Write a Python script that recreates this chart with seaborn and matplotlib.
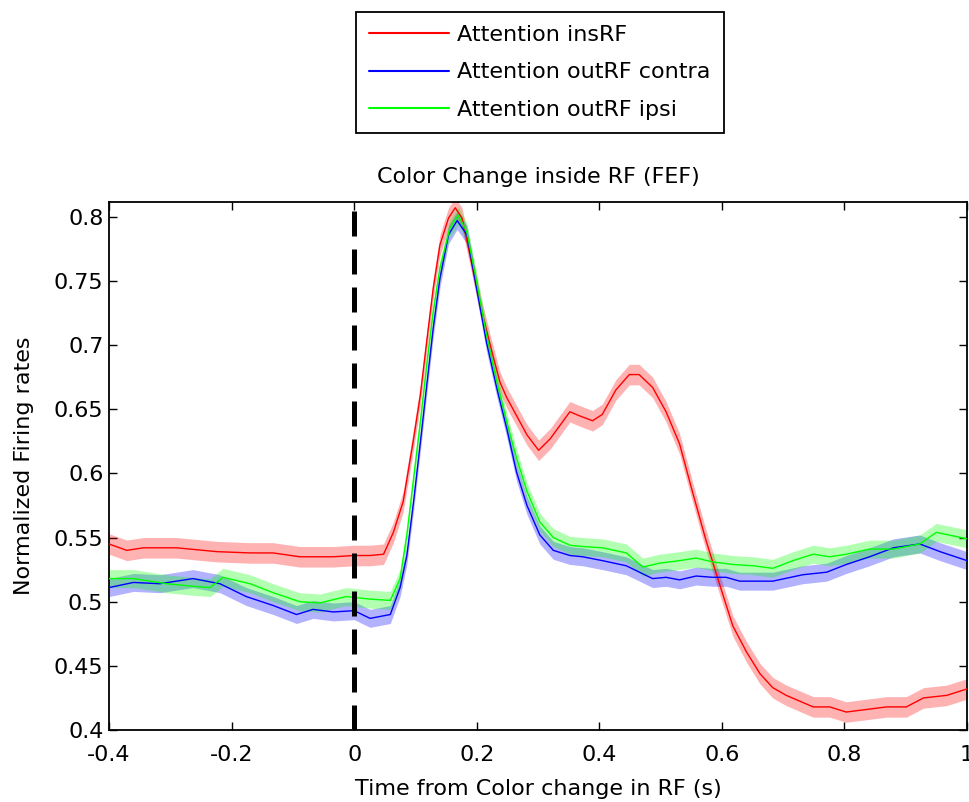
import numpy as np
import pandas as pd
import matplotlib
matplotlib.use("Agg")
import matplotlib.pyplot as plt
import seaborn as sns
from matplotlib.ticker import FuncFormatter

# ---------------- data ----------------
series_names = ["Attention insRF", "Attention outRF contra", "Attention outRF ipsi"]
series_colors = ["#ff0000", "#0000ff", "#00ff00"]

red_t = [-0.4, -0.371, -0.344, -0.29, -0.224, -0.17, -0.132, -0.089, -0.034, 0.0,
         0.026, 0.048, 0.064, 0.080, 0.097, 0.108, 0.119, 0.129, 0.140, 0.154,
         0.165, 0.176, 0.189, 0.206, 0.222, 0.238, 0.249, 0.265, 0.282, 0.301,
         0.320, 0.352, 0.367, 0.389, 0.405, 0.427, 0.449, 0.465, 0.487, 0.509,
         0.531, 0.553, 0.574, 0.596, 0.618, 0.640, 0.662, 0.683, 0.705, 0.749,
         0.776, 0.803, 0.836, 0.869, 0.901, 0.929, 0.967, 1.0]
red_v = [0.545, 0.540, 0.542, 0.542, 0.539, 0.538, 0.538, 0.535, 0.535, 0.536,
         0.536, 0.537, 0.554, 0.578, 0.627, 0.661, 0.705, 0.744, 0.778, 0.799,
         0.807, 0.799, 0.770, 0.731, 0.700, 0.671, 0.659, 0.645, 0.630, 0.618,
         0.627, 0.648, 0.645, 0.641, 0.646, 0.665, 0.677, 0.677, 0.667, 0.648,
         0.623, 0.584, 0.548, 0.514, 0.481, 0.461, 0.444, 0.433, 0.427, 0.418,
         0.418, 0.414, 0.416, 0.418, 0.418, 0.425, 0.427, 0.432]
red_sem = 0.008

blue_t = [-0.4, -0.36, -0.317, -0.263, -0.219, -0.176, -0.132, -0.094, -0.067, -0.034,
          0.0, 0.026, 0.059, 0.075, 0.086, 0.097, 0.108, 0.119, 0.129, 0.140,
          0.154, 0.168, 0.184, 0.200, 0.216, 0.233, 0.249, 0.265, 0.282, 0.303,
          0.325, 0.352, 0.373, 0.405, 0.444, 0.487, 0.509, 0.531, 0.558, 0.585,
          0.607, 0.629, 0.683, 0.732, 0.771, 0.803, 0.841, 0.880, 0.923, 0.956,
          1.0]
blue_v = [0.511, 0.515, 0.514, 0.518, 0.514, 0.504, 0.497, 0.490, 0.494, 0.492,
          0.493, 0.487, 0.490, 0.511, 0.536, 0.578, 0.624, 0.671, 0.713, 0.752,
          0.786, 0.797, 0.786, 0.744, 0.702, 0.666, 0.635, 0.601, 0.575, 0.552,
          0.540, 0.536, 0.535, 0.532, 0.528, 0.518, 0.519, 0.517, 0.520, 0.519,
          0.519, 0.516, 0.516, 0.521, 0.523, 0.529, 0.535, 0.542, 0.545, 0.539,
          0.532]
blue_sem = 0.007

green_t = [-0.4, -0.36, -0.306, -0.263, -0.235, -0.214, -0.17, -0.132, -0.089, -0.056,
           -0.013, 0.026, 0.059, 0.075, 0.086, 0.097, 0.108, 0.119, 0.129, 0.140,
           0.156, 0.170, 0.184, 0.200, 0.216, 0.233, 0.249, 0.265, 0.282, 0.303,
           0.325, 0.352, 0.373, 0.405, 0.444, 0.471, 0.498, 0.531, 0.558, 0.585,
           0.618, 0.651, 0.683, 0.716, 0.749, 0.776, 0.803, 0.841, 0.880, 0.923,
           0.950, 1.0]
green_v = [0.518, 0.518, 0.514, 0.512, 0.511, 0.519, 0.514, 0.507, 0.500, 0.499,
           0.504, 0.502, 0.501, 0.518, 0.552, 0.596, 0.640, 0.687, 0.726, 0.760,
           0.791, 0.801, 0.788, 0.749, 0.708, 0.671, 0.640, 0.612, 0.586, 0.562,
           0.550, 0.544, 0.543, 0.542, 0.538, 0.527, 0.530, 0.532, 0.534, 0.531,
           0.529, 0.528, 0.526, 0.532, 0.537, 0.535, 0.537, 0.541, 0.541, 0.545,
           0.554, 0.549]
green_sem = 0.007

x_ticks = [-0.4, -0.2, 0, 0.2, 0.4, 0.6, 0.8, 1.0]
y_ticks = [0.4, 0.45, 0.5, 0.55, 0.6, 0.65, 0.7, 0.75, 0.8]
title_text = "Color Change inside RF (FEF)"
x_label = "Time from Color change in RF (s)"
y_label = "Normalized Firing rates"

# ---------------- figure ----------------
sns.set_theme(style="white")
plt.rcParams["font.family"] = ["DejaVu Sans"]
plt.rcParams["axes.unicode_minus"] = False
plt.rcParams["text.color"] = "black"
plt.rcParams["axes.labelcolor"] = "black"
plt.rcParams["xtick.color"] = "black"
plt.rcParams["ytick.color"] = "black"

fig = plt.figure(figsize=(9.69, 8.02), dpi=100)
ax = fig.add_axes([109 / 969, 1 - 730 / 802, (967 - 109) / 969, (730 - 202) / 802])

frames = []
for name, t, v, s in zip(series_names,
                         [red_t, blue_t, green_t],
                         [red_v, blue_v, green_v],
                         [red_sem, blue_sem, green_sem]):
    frames.append(pd.DataFrame({"time": t, "rate": v, "sem": s, "cond": name}))
df = pd.concat(frames, ignore_index=True)

for name, col in zip(series_names, series_colors):
    d = df[df["cond"] == name]
    ax.fill_between(d["time"], d["rate"] - d["sem"], d["rate"] + d["sem"],
                    color=col, alpha=0.3, linewidth=0, zorder=1)

sns.lineplot(data=df, x="time", y="rate", hue="cond", hue_order=series_names,
             palette=series_colors, linewidth=1.0, ax=ax, estimator=None,
             sort=True, legend=True, zorder=3)

ax.axvline(0, color="black", linewidth=3.6, linestyle=(0, (5, 2.6)), zorder=4)

ax.set_xlim(-0.4, 1.0)
ax.set_ylim(0.4, 0.8115)
ax.set_xticks(x_ticks)
ax.set_yticks(y_ticks)
fmt = FuncFormatter(lambda v, p: "%g" % round(v, 2))
ax.xaxis.set_major_formatter(fmt)
ax.yaxis.set_major_formatter(fmt)
ax.tick_params(direction="in", length=6, width=1.0, labelsize=16, colors="black",
               top=True, right=True, bottom=True, left=True)
ax.tick_params(axis="x", pad=11)
ax.tick_params(axis="y", pad=4)
for sp in ax.spines.values():
    sp.set_visible(True)
    sp.set_color("black")
    sp.set_linewidth(1.3)

ax.set_title(title_text, fontsize=16, color="black", pad=14)
ax.set_xlabel(x_label, fontsize=16, color="black", labelpad=10)
ax.set_ylabel(y_label, fontsize=16, color="black", labelpad=14)

handles, labels = ax.get_legend_handles_labels()
leg = ax.legend(handles, labels, loc="lower center",
                bbox_to_anchor=(0.502, (730 - 133) / 528),
                fontsize=16, frameon=True, fancybox=False, framealpha=1,
                edgecolor="black", handlelength=3.6, handletextpad=0.35,
                labelspacing=0.78, borderpad=0.6, borderaxespad=0,
                labelcolor="black")
leg.get_frame().set_linewidth(1.3)
for lh in leg.get_lines():
    lh.set_linewidth(1.5)

fig.savefig("out.png", dpi=100, facecolor="white")
